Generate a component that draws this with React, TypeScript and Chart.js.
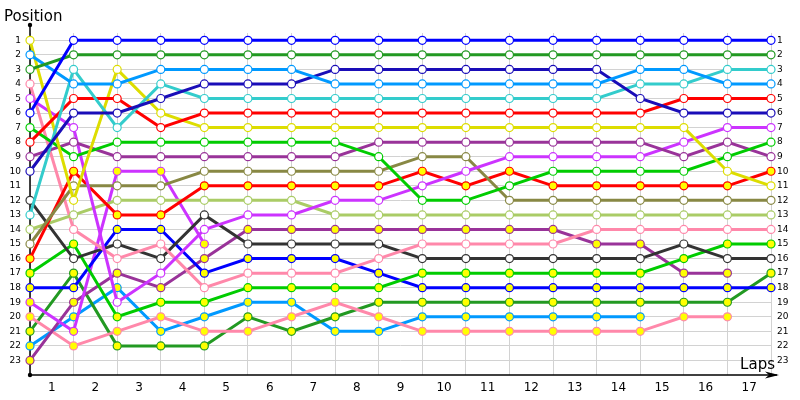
import React, { useEffect, useRef } from "react";
import { Chart, registerables } from "chart.js";

Chart.register(...registerables);

// ---- data ----
const laps = [0, 1, 2, 3, 4, 5, 6, 7, 8, 9, 10, 11, 12, 13, 14, 15, 16, 17];
const lapLabels = ["1", "2", "3", "4", "5", "6", "7", "8", "9", "10", "11", "12", "13", "14", "15", "16", "17"];
const positionTicks = [1, 2, 3, 4, 5, 6, 7, 8, 9, 10, 11, 12, 13, 14, 15, 16, 17, 18, 19, 20, 21, 22, 23];

const blueA = [6, 1, 1, 1, 1, 1, 1, 1, 1, 1, 1, 1, 1, 1, 1, 1, 1, 1];
const darkGreenA = [3, 2, 2, 2, 2, 2, 2, 2, 2, 2, 2, 2, 2, 2, 2, 2, 2, 2];
const lightBlueA = [2, 4, 4, 3, 3, 3, 3, 4, 4, 4, 4, 4, 4, 4, 3, 3, 4, 4];
const navy = [10, 6, 6, 5, 4, 4, 4, 3, 3, 3, 3, 3, 3, 3, 5, 6, 6, 6];
const cyan = [13, 3, 7, 4, 5, 5, 5, 5, 5, 5, 5, 5, 5, 5, 4, 4, 3, 3];
const redA = [8, 5, 5, 7, 6, 6, 6, 6, 6, 6, 6, 6, 6, 6, 6, 5, 5, 5];
const yellow = [1, 12, 3, 6, 7, 7, 7, 7, 7, 7, 7, 7, 7, 7, 7, 7, 10, 11];
const greenA = [7, 9, 8, 8, 8, 8, 8, 8, 9, 12, 12, 11, 10, 10, 10, 10, 9, 8];
const purpleA = [9, 8, 9, 9, 9, 9, 9, 9, 8, 8, 8, 8, 8, 8, 8, 9, 8, 9];
const magentaA = [5, 7, 19, 17, 14, 13, 13, 12, 12, 11, 10, 9, 9, 9, 9, 8, 7, 7];
const olive = [15, 11, 11, 11, 10, 10, 10, 10, 10, 9, 9, 12, 12, 12, 12, 12, 12, 12];
const redB = [16, 10, 13, 13, 11, 11, 11, 11, 11, 10, 11, 10, 11, 11, 11, 11, 11, 10];
const lightGreen = [14, 13, 12, 12, 12, 12, 12, 13, 13, 13, 13, 13, 13, 13, 13, 13, 13, 13];
const pinkA = [4, 14, 16, 15, 18, 17, 17, 17, 16, 15, 15, 15, 15, 14, 14, 14, 14, 14];
const darkGray = [12, 16, 15, 16, 13, 15, 15, 15, 15, 16, 16, 16, 16, 16, 16, 15, 16, 16];
const greenB = [17, 15, 20, 19, 19, 18, 18, 18, 18, 17, 17, 17, 17, 17, 17, 16, 15, 15];
const blueB = [18, 18, 14, 14, 17, 16, 16, 16, 17, 18, 18, 18, 18, 18, 18, 18, 18, 18];
const magentaB = [19, 21, 10, 10, 15];
const purpleB = [23, 19, 17, 18, 16, 14, 14, 14, 14, 14, 14, 14, 14, 15, 15, 17, 17];
const pinkB = [20, 22, 21, 20, 21, 21, 20, 19, 20, 21, 21, 21, 21, 21, 21, 20, 20];
const darkGreenB = [21, 17, 22, 22, 22, 20, 21, 20, 19, 19, 19, 19, 19, 19, 19, 19, 19, 17];
const lightBlueB = [22, 20, 18, 21, 20, 19, 19, 21, 21, 20, 20, 20, 20, 20, 20];

const WHITE = "#ffffff";
const YEL = "#ffff00";

const series = [
  { values: blueA, color: "#0000ff", fill: WHITE },
  { values: darkGreenA, color: "#229922", fill: WHITE },
  { values: lightBlueA, color: "#0099ff", fill: WHITE },
  { values: navy, color: "#1a0db8", fill: WHITE },
  { values: cyan, color: "#33cccc", fill: WHITE },
  { values: redA, color: "#ff0000", fill: WHITE },
  { values: yellow, color: "#dddd00", fill: WHITE },
  { values: greenA, color: "#00cc00", fill: WHITE },
  { values: purpleA, color: "#993399", fill: WHITE },
  { values: magentaA, color: "#cc33ff", fill: WHITE },
  { values: olive, color: "#888844", fill: WHITE },
  { values: redB, color: "#ff0000", fill: YEL },
  { values: lightGreen, color: "#aacc66", fill: WHITE },
  { values: pinkA, color: "#ff88aa", fill: WHITE },
  { values: darkGray, color: "#333333", fill: WHITE },
  { values: greenB, color: "#00cc00", fill: YEL },
  { values: blueB, color: "#0000ff", fill: YEL },
  { values: magentaB, color: "#cc33ff", fill: YEL },
  { values: purpleB, color: "#993399", fill: YEL },
  { values: pinkB, color: "#ff88aa", fill: YEL },
  { values: darkGreenB, color: "#229922", fill: YEL },
  { values: lightBlueB, color: "#0099ff", fill: YEL },
];

const FONT = '"DejaVu Sans", Verdana, sans-serif';

const decorPlugin = {
  id: "decor",
  beforeDatasetsDraw(chart: any) {
    const { ctx, chartArea } = chart;
    const left = chartArea.left;
    const bottom = chartArea.bottom;
    const right = chartArea.right;
    ctx.save();
    ctx.strokeStyle = "#000";
    ctx.fillStyle = "#000";
    ctx.lineWidth = 1.5;
    // y axis
    ctx.beginPath();
    ctx.moveTo(left, 25);
    ctx.lineTo(left, bottom);
    ctx.stroke();
    // x axis
    ctx.beginPath();
    ctx.moveTo(left, bottom);
    ctx.lineTo(right + 6, bottom);
    ctx.stroke();
    // arrow head
    ctx.beginPath();
    ctx.moveTo(right + 8, bottom);
    ctx.lineTo(right - 6, bottom - 3.5);
    ctx.lineTo(right - 2, bottom);
    ctx.lineTo(right - 6, bottom + 3.5);
    ctx.closePath();
    ctx.fill();
    // dots
    ctx.beginPath();
    ctx.arc(left, 25, 2.2, 0, Math.PI * 2);
    ctx.fill();
    ctx.beginPath();
    ctx.arc(left, bottom, 2.2, 0, Math.PI * 2);
    ctx.fill();
    // titles
    ctx.font = `15px ${FONT}`;
    ctx.textBaseline = "alphabetic";
    ctx.textAlign = "left";
    ctx.fillText("Position", 4, 21);
    ctx.textAlign = "right";
    ctx.fillText("Laps", 775, 369);
    ctx.restore();
  },
};

export default function App() {
  const ref = useRef<HTMLCanvasElement | null>(null);

  useEffect(() => {
    if (!ref.current) return;
    const datasets = series.map((s) => ({
      data: s.values.map((v, i) => ({ x: laps[i], y: v })),
      borderColor: s.color,
      backgroundColor: s.color,
      borderWidth: 3,
      pointRadius: 4,
      pointHoverRadius: 4,
      pointBorderWidth: 1.2,
      pointBackgroundColor: s.fill,
      pointBorderColor: s.color,
      tension: 0,
      clip: false as any,
      fill: false,
    }));

    const yTicks = (axis: any) => {
      axis.ticks = positionTicks.map((v) => ({ value: v }));
    };

    const chart = new Chart(ref.current, {
      type: "line",
      data: { datasets },
      plugins: [decorPlugin],
      options: {
        responsive: false,
        animation: false,
        layout: { padding: { top: 33, left: 0, right: 0, bottom: 0 } },
        plugins: {
          legend: { display: false },
          tooltip: { enabled: false },
        },
        scales: {
          x: {
            type: "linear",
            min: 0,
            max: 17,
            offset: false,
            afterBuildTicks: (axis: any) => {
              axis.ticks = laps.map((v) => ({ value: v }));
            },
            afterFit: (s: any) => {
              s.height = 25;
            },
            grid: { color: "#d2d2d2", lineWidth: 1, drawTicks: false },
            border: { display: false },
            ticks: {
              padding: 6,
              labelOffset: 21.8,
              maxRotation: 0,
              autoSkip: false,
              color: "#000",
              font: { family: FONT, size: 12 },
              callback: (v: any) => lapLabels[v] ?? "",
            },
          },
          y: {
            type: "linear",
            position: "left",
            reverse: true,
            min: 0.5,
            max: 24,
            afterBuildTicks: yTicks,
            afterFit: (s: any) => {
              s.width = 30;
            },
            grid: { color: "#d2d2d2", lineWidth: 1, drawTicks: false },
            border: { display: false },
            ticks: {
              padding: 9,
              autoSkip: false,
              color: "#000",
              font: { family: FONT, size: 9 },
              callback: (v: any) => String(v),
            },
          },
          y2: {
            type: "linear",
            position: "right",
            reverse: true,
            min: 0.5,
            max: 24,
            afterBuildTicks: yTicks,
            afterFit: (s: any) => {
              s.width = 29;
            },
            grid: { display: false, drawTicks: false },
            border: { display: false },
            ticks: {
              padding: 6,
              autoSkip: false,
              color: "#000",
              font: { family: FONT, size: 9 },
              callback: (v: any) => String(v),
            },
          },
        },
      },
    });
    return () => chart.destroy();
  }, []);

  return (
    <div style={{ position: "fixed", left: 0, top: 0, width: 800, height: 400, background: "#fff" }}>
      <canvas ref={ref} width={800} height={400} style={{ display: "block" }} />
    </div>
  );
}
